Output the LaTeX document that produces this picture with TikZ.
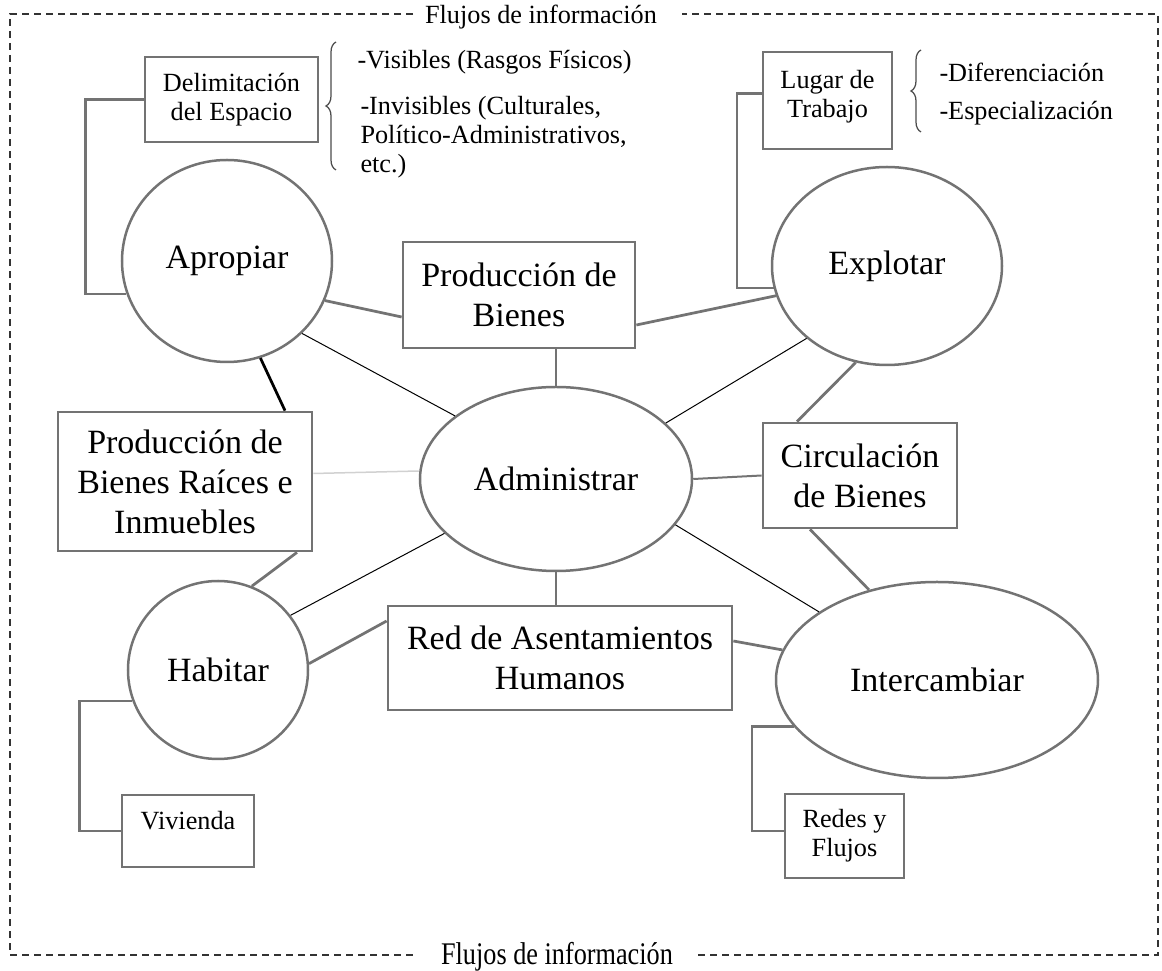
\documentclass[tikz,border=0pt]{standalone}
\usepackage{fontspec}
\setmainfont{Liberation Serif}
\usetikzlibrary{shapes.geometric,decorations.pathreplacing}

\colorlet{edgegray}{black!55}
\newcommand{\txtbig}{\fontsize{13.6}{16}\selectfont}
\newcommand{\txtsmall}{\fontsize{10.5}{11.6}\selectfont}

\tikzset{
  bigbox/.style={rectangle, draw=edgegray, line width=1.1pt, font=\txtbig, align=center, inner sep=0pt},
  smallbox/.style={bigbox, font=\txtsmall},
  oval/.style={ellipse, draw=edgegray, line width=1pt, font=\txtbig, inner sep=0pt},
  link/.style={edgegray, line width=1.1pt},
  hairline/.style={black, line width=0.4pt},
  stem/.style={edgegray, line width=0.6pt},
  faint/.style={black!18, line width=0.6pt},
  bracket/.style={edgegray, line width=0.9pt},
  flow/.style={black!80, line width=0.6pt, dash pattern=on 2.8pt off 2pt},
  curly/.style={black!70, line width=0.5pt, decorate, decoration={brace, amplitude=4pt}},
  note/.style={font=\txtsmall, align=left, inner sep=0pt, anchor=west}
}

\begin{document}
\begin{tikzpicture}[x=0.4pt, y=-0.4pt]
\useasboundingbox (0,0) rectangle (1162,971);

% marco: flujos de informacion
\draw[flow] (413,14) -| (10,955) -- (418,955);
\draw[flow] (698,955) -| (1158,14) -- (682,14);
\node[font=\txtsmall] (flujos1) at (541,17) {Flujos de información};
\node[font=\txtsmall] (flujos2) at (557,957) {\scalebox{1}[1.2]{Flujos de información}};

% funciones
\node[oval, minimum width=84pt, minimum height=80.8pt] (aprop) at (227,261) {Apropiar};
\node[oval, minimum width=92pt, minimum height=79.2pt] (expl) at (887,266) {Explotar};
\node[oval, minimum width=108.8pt, minimum height=73.6pt] (admin) at (556,479) {Administrar};
\node[oval, minimum width=72pt, minimum height=71.2pt] (hab) at (218,670) {Habitar};
\node[oval, minimum width=128.8pt, minimum height=78.4pt] (inter) at (937,680) {Intercambiar};

% productos
\node[smallbox, minimum width=69.2pt, minimum height=34pt] (delim) at (231.5,99.5) {Delimitación\\del Espacio};
\node[smallbox, minimum width=51.6pt, minimum height=38.8pt] (lugar) at (827.5,100.5) {Lugar de\\Trabajo\\[-6pt]\mbox{}};
\node[bigbox, minimum width=92.8pt, minimum height=42.4pt] (prod) at (519,295) {Producción de\\Bienes};
\node[bigbox, minimum width=77.6pt, minimum height=42pt] (circ) at (860,475.5) {Circulación\\de Bienes};
\node[bigbox, minimum width=101.6pt, minimum height=55.6pt] (raices) at (185,481.5) {Producción de\\Bienes Raíces e\\Inmuebles};
\node[bigbox, minimum width=137.6pt, minimum height=41.6pt] (red) at (560,658) {Red de Asentamientos\\Humanos};
\node[smallbox, minimum width=52.8pt, text height=14pt, text depth=14.8pt] (viv) at (188,831) {Vivienda};
\node[smallbox, minimum width=47.6pt, minimum height=33.6pt] (redes) at (844.5,836) {Redes y\\Flujos};

% llaves y notas
\draw[curly] (336,170) -- (336,42);
\draw[curly] (921,132) -- (921,50);
\node[note] (visibles) at (357,62) {-Visibles (Rasgos Físicos)};
\node[note] (invisibles) at (360,137) {-Invisibles (Culturales,\\Político-Administrativos,\\etc.)};
\node[note] (difer) at (939,72) {-Diferenciación};
\node[note] (espec) at (939,113) {-Especialización};

% corchetes
\draw[bracket] (delim.west) -- ++(-58,0) |- (aprop.198);
\draw[bracket] ([yshift=2.8pt]lugar.west) -- ++(-25,0) |- (expl.191);
\draw[bracket] (viv.west) -- ++(-41,0) |- (hab.200);
\draw[bracket] ([yshift=2pt]redes.west) -- ++(-32,0) |- (inter.198);

% conexiones
\draw[link] (aprop.-22) -- ([yshift=-8.8pt]prod.west);
\draw[link] ([yshift=-12pt]prod.east) -- (expl.195);
\draw[stem] (prod.south -| admin.north) -- (admin.north);
\draw[hairline] (admin.148) -- (aprop.-44);
\draw[hairline] (admin.27) -- (expl.222);
\draw[link] (expl.252) -- ([xshift=-25.2pt]circ.north);
\draw[link, line width=0.8pt] (admin.east) -- (circ.west);
\draw[link] ([xshift=-20pt]circ.south) -- (inter.127);
\draw[hairline] (admin.-21) -- (inter.150);
\draw[link] ([yshift=6.8pt]red.east) -- (inter.169);
\draw[stem] (admin.south) -- (admin.south |- red.north);
\draw[hairline] (admin.206) -- (hab.37);
\draw[link] (hab.4) -- ([yshift=14.8pt]red.west);
\draw[faint] ([yshift=3.2pt]raices.east) -- ([yshift=3.2pt]admin.west);
\draw[link, black] (aprop.-71) -- ([xshift=40pt]raices.north);
\draw[link] ([xshift=44.8pt]raices.south) -- (hab.68);
\end{tikzpicture}
\end{document}
